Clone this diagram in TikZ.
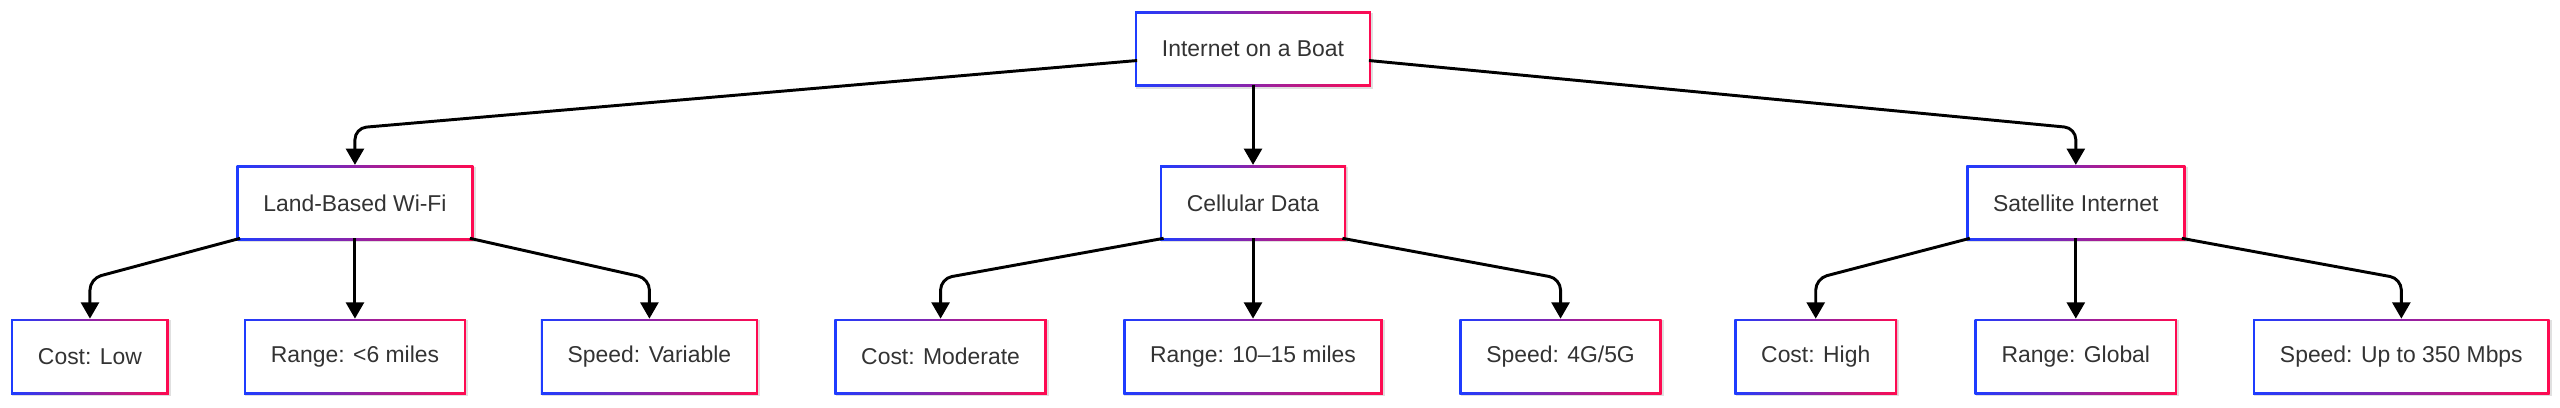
\documentclass[tikz,border=0pt]{standalone}
\usepackage{fontspec}
\setmainfont{Liberation Sans}
\usetikzlibrary{arrows.meta,calc,backgrounds}
\definecolor{blu}{HTML}{1E3CFF}
\definecolor{rd}{HTML}{FF0A50}
\definecolor{txt}{HTML}{333333}
\tikzset{
  box/.style={fill=white,draw=none,minimum height=43pt,inner xsep=15pt,font=\fontsize{14}{16}\selectfont,text=txt},
  arr/.style={draw=black,line width=1.8pt,rounded corners=7pt,-{Triangle[length=10pt,width=11pt]}}
}
\newcommand\gbox[3]{%
  \node[box] (#1) at (#2) {#3};
  \begin{pgfonlayer}{background}
  \fill[black!12] ([shift={(-0.5pt,-2.5pt)}]#1.south west) rectangle ([shift={(2.5pt,0.5pt)}]#1.north east);
  \shade[left color=blu,right color=rd] ([shift={(-1.2pt,-1.2pt)}]#1.south west) rectangle ([shift={(1.2pt,1.2pt)}]#1.north east);
  \end{pgfonlayer}}
\begin{document}
\begin{tikzpicture}[x=1pt,y=-1pt]
\useasboundingbox (0,0) rectangle (1565,249);
\gbox{root}{766,30}{Internet on a Boat}
\gbox{land}{217,124}{Land-Based Wi-Fi}
\gbox{cell}{766,124}{Cellular Data}
\gbox{sat}{1269,124}{Satellite Internet}
\gbox{a1}{55,218}{Cost: Low}
\gbox{a2}{217,218}{Range: <6 miles}
\gbox{a3}{397,218}{Speed: Variable}
\gbox{b1}{575,218}{Cost: Moderate}
\gbox{b2}{766,218}{Range: 10–15 miles}
\gbox{b3}{954,218}{Speed: 4G/5G}
\gbox{c1}{1110,218}{Cost: High}
\gbox{c2}{1269,218}{Range: Global}
\gbox{c3}{1468,218}{Speed: Up to 350 Mbps}
\draw[arr] ([yshift=-7pt]root.west) -- ($(land.north)+(0,-24)$) -- ([yshift=1.5pt]land.north);
\draw[arr] (root.south) -- ([yshift=1.5pt]cell.north);
\draw[arr] ([yshift=-7pt]root.east) -- ($(sat.north)+(0,-24)$) -- ([yshift=1.5pt]sat.north);
\foreach \p/\l/\m/\r in {land/a1/a2/a3,cell/b1/b2/b3,sat/c1/c2/c3}{
  \draw[arr] ([xshift=1pt]\p.south west) -- ($(\l.north)+(0,-26)$) -- ([yshift=1.5pt]\l.north);
  \draw[arr] (\p.south) -- ([yshift=1.5pt]\m.north);
  \draw[arr] ([xshift=-1pt]\p.south east) -- ($(\r.north)+(0,-26)$) -- ([yshift=1.5pt]\r.north);
}
\end{tikzpicture}
\end{document}
